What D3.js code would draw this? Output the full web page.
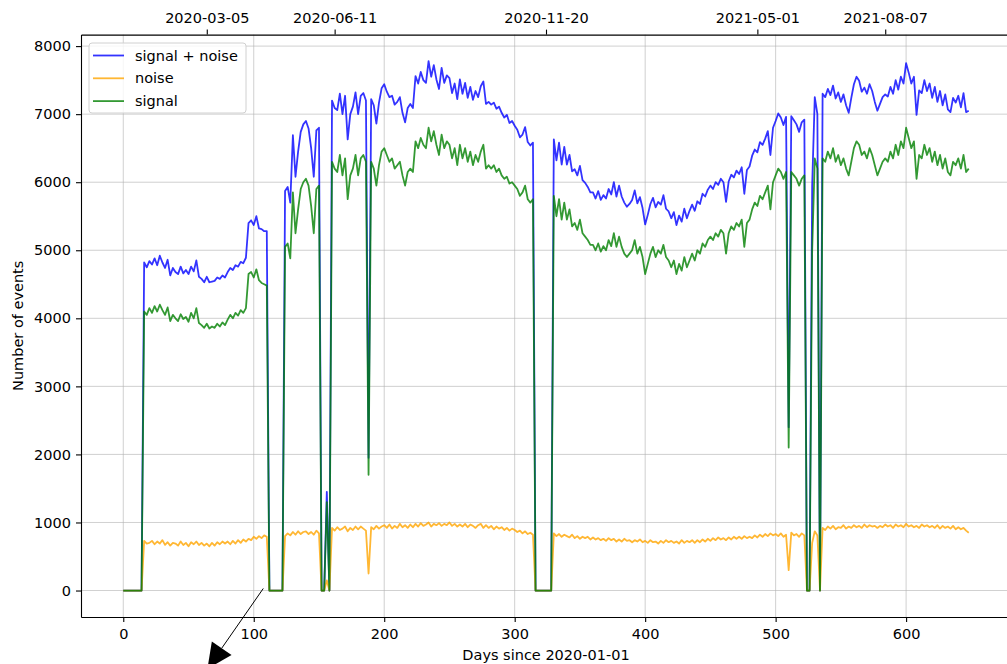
<!DOCTYPE html>
<html>
<head>
<meta charset="utf-8">
<script src="https://cdn.jsdelivr.net/npm/d3@7"></script>
<style>
  body { margin: 0; background: #fff; }
  svg text { font-family: "DejaVu Sans", sans-serif; }
</style>
</head>
<body>
<div id="chart"></div>
<script>
// one value every 2 days, starting at day 0 (2020-01-01)
var dayStep = 2;

var signalPlusNoise = [
0,0,0,0,0,0,0,0,4820,4750,
4840,4790,4880,4780,4920,4820,4740,4860,4630,4740,
4680,4650,4760,4660,4710,4650,4760,4690,4850,4610,
4580,4530,4610,4530,4540,4550,4600,4580,4630,4600,
4680,4740,4710,4780,4760,4830,4810,4890,5400,5440,
5370,5500,5320,5310,5280,5280,0,0,0,0,
0,0,5870,5930,5700,6690,6080,6450,6740,6850,
6900,6790,6500,6080,6760,6800,0,0,1450,0,
7200,7090,7060,7300,7000,7270,6630,7000,7110,7320,
7000,7270,7310,7200,1950,7220,7130,6860,7170,7380,
7440,7330,7250,7270,7140,7180,7250,7020,6880,7090,
7150,7090,7560,7450,7620,7500,7460,7780,7550,7720,
7510,7370,7680,7460,7570,7530,7310,7450,7220,7510,
7300,7460,7240,7400,7210,7340,7250,7410,7480,7150,
7180,7140,7170,7080,7110,7020,6950,6990,6870,6900,
6830,6770,6660,6700,6810,6590,6540,6580,0,0,
0,0,0,0,0,6630,6320,6580,6260,6520,
6260,6400,6160,6190,6100,6240,6030,5990,5930,5850,
5850,5760,5870,5740,5810,5760,5900,5820,6000,5790,
5950,5790,5700,5640,5680,5740,5880,5690,5780,5620,
5380,5520,5680,5770,5630,5710,5670,5810,5610,5570,
5470,5560,5370,5510,5420,5610,5470,5580,5670,5580,
5720,5680,5830,5790,5890,5950,5900,6000,5960,6050,
6000,5710,6010,6110,6070,6170,6120,6220,5830,6180,
6230,6390,6480,6440,6590,6550,6640,6750,6400,6800,
6900,7010,6950,6840,6960,2400,6970,6910,6850,6740,
6880,6920,0,0,5950,7250,7000,0,7300,7250,
7370,7280,7420,7230,7320,7180,7290,7130,7020,7240,
7440,7550,7490,7330,7390,7300,7440,7340,7180,7050,
7150,7250,7290,7260,7400,7300,7500,7360,7550,7450,
7750,7610,7450,7550,6990,7350,7310,7500,7340,7450,
7240,7400,7180,7340,7130,7290,7070,7030,7240,7170,
7270,7100,7310,7030,7050
];

var noise = [
0,0,0,0,0,0,0,0,730,690,
700,730,680,720,690,740,670,710,660,700,
690,660,720,670,700,650,710,680,720,670,
700,660,690,650,700,660,710,680,720,690,
720,680,730,690,740,700,750,720,760,740,
790,760,800,770,810,790,0,0,0,0,
0,0,800,840,810,860,820,870,830,860,
870,830,860,820,880,840,0,0,150,0,
920,880,930,890,910,940,870,920,890,940,
900,940,910,880,250,930,900,950,910,940,
960,920,970,910,950,920,980,930,960,920,
970,930,980,940,990,950,970,1000,940,980,
960,990,950,980,960,1000,950,980,940,970,
940,980,930,970,950,920,960,980,920,960,
920,950,900,940,910,930,890,920,880,910,
890,860,880,840,870,830,850,820,0,0,
0,0,0,0,0,840,800,830,790,820,
800,780,820,770,800,760,790,770,790,750,
780,750,770,740,760,730,770,740,760,720,
750,720,760,730,740,710,740,720,750,710,
730,700,740,710,720,690,730,700,740,710,
730,700,720,690,740,700,730,710,740,700,
740,710,750,720,760,730,770,740,780,750,
770,740,780,750,790,760,790,760,800,770,
790,770,810,780,820,790,830,800,840,810,
830,800,840,790,820,300,850,810,830,790,
840,810,0,0,700,870,810,0,920,890,
940,910,950,900,930,920,960,910,940,920,
960,930,950,920,970,930,960,940,950,920,
950,930,970,940,960,920,970,940,960,930,
980,940,960,930,950,920,970,940,960,930,
950,920,960,910,950,920,940,910,950,900,
930,900,920,880,850
];

var signal = [
0,0,0,0,0,0,0,0,4100,4050,
4150,4080,4180,4100,4200,4120,4050,4160,3960,4050,
4000,3960,4060,3990,4020,3950,4080,4000,4150,3930,
3900,3860,3920,3850,3880,3860,3920,3880,3940,3900,
3980,4050,4000,4080,4040,4120,4080,4150,4650,4680,
4600,4720,4560,4520,4500,4480,0,0,0,0,
0,0,5050,5100,4880,5850,5250,5600,5900,6000,
6050,5950,5650,5250,5900,5950,0,0,1300,0,
6300,6200,6150,6400,6100,6350,5750,6100,6200,6400,
6100,6350,6400,6300,1700,6300,6200,5950,6250,6450,
6500,6400,6300,6350,6200,6250,6300,6100,5950,6150,
6200,6150,6600,6500,6650,6550,6500,6800,6600,6750,
6550,6400,6700,6500,6600,6550,6350,6500,6250,6550,
6350,6500,6300,6450,6250,6400,6300,6450,6550,6200,
6250,6200,6250,6150,6200,6100,6050,6080,5980,6000,
5950,5900,5800,5850,5950,5750,5700,5750,0,0,
0,0,0,0,0,5800,5500,5750,5450,5700,
5450,5600,5350,5400,5300,5450,5250,5200,5150,5080,
5080,5000,5100,4980,5060,5000,5150,5060,5250,5050,
5200,5050,4950,4900,4950,5000,5150,4950,5050,4900,
4650,4800,4950,5050,4900,5000,4950,5080,4900,4850,
4750,4850,4650,4800,4700,4900,4750,4850,4950,4850,
5000,4950,5100,5050,5150,5200,5150,5250,5200,5300,
5250,4950,5250,5350,5300,5400,5350,5450,5050,5400,
5450,5600,5700,5650,5800,5750,5850,5950,5600,6000,
6100,6200,6150,6050,6150,2100,6150,6100,6050,5950,
6050,6100,0,0,5000,6350,6200,0,6350,6300,
6450,6350,6500,6300,6400,6250,6350,6200,6100,6300,
6500,6600,6550,6400,6450,6350,6500,6400,6250,6100,
6200,6300,6350,6300,6450,6350,6550,6400,6600,6500,
6800,6650,6500,6600,6050,6400,6350,6550,6400,6500,
6300,6450,6250,6400,6200,6350,6150,6100,6300,6250,
6350,6200,6400,6150,6200
];

var seriesNames = ["signal + noise", "noise", "signal"];
var seriesColors = ["#0000ff", "#ffa500", "#008000"];

var xTicks = [0, 100, 200, 300, 400, 500, 600];
var yTicks = [0, 1000, 2000, 3000, 4000, 5000, 6000, 7000, 8000];
var dateTicks = ["2020-03-05", "2020-06-11", "2020-11-20", "2021-05-01", "2021-08-07"];

// annotation arrow, in (day, events) coordinates
var arrowFrom = [107.3, 30];
var arrowTip = [64.5, -1150];

var width = 1007, height = 664;
var plotLeft = 81, plotRight = 1011, plotTop = 34.6, plotBottom = 617;
var fontSize = 14.5;

var svg = d3.select("#chart").append("svg")
    .attr("width", width)
    .attr("height", height)
    .attr("xmlns", "http://www.w3.org/2000/svg");

var x = d3.scaleLinear().domain([-32.4, 680.4]).range([plotLeft, plotRight]);
var y = d3.scaleLinear().domain([-389, 8169]).range([plotBottom, plotTop]);

var startMs = Date.UTC(2020, 0, 1);
var dayMs = 86400000;
var xDate = d3.scaleUtc()
    .domain([new Date(startMs + x.domain()[0] * dayMs), new Date(startMs + x.domain()[1] * dayMs)])
    .range([plotLeft, plotRight]);

// grid
svg.append("g").selectAll("line").data(xTicks).join("line")
    .attr("x1", d => x(d)).attr("x2", d => x(d))
    .attr("y1", plotTop).attr("y2", plotBottom)
    .style("stroke", "#b0b0b0").style("stroke-opacity", 0.6).style("stroke-width", 1);

svg.append("g").selectAll("line").data(yTicks).join("line")
    .attr("x1", plotLeft).attr("x2", plotRight)
    .attr("y1", d => y(d)).attr("y2", d => y(d))
    .style("stroke", "#b0b0b0").style("stroke-opacity", 0.6).style("stroke-width", 1);

// lines
svg.append("clipPath").attr("id", "plot")
    .append("rect")
    .attr("x", plotLeft).attr("y", plotTop)
    .attr("width", plotRight - plotLeft).attr("height", plotBottom - plotTop);

var line = d3.line()
    .x((d, i) => x(i * dayStep))
    .y(d => y(d));

[signalPlusNoise, noise, signal].forEach(function(series, k) {
    svg.append("path")
        .attr("clip-path", "url(#plot)")
        .attr("d", line(series))
        .style("fill", "none")
        .style("stroke", seriesColors[k])
        .style("stroke-opacity", 0.8)
        .style("stroke-width", 1.8)
        .style("stroke-linejoin", "round");
});

// axes
function styleAxis(g) {
    g.attr("font-size", fontSize).attr("font-family", "DejaVu Sans, sans-serif");
    g.selectAll("text").style("fill", "#000");
    g.selectAll("line").style("stroke", "#000").style("stroke-width", 1.1);
    g.select(".domain").style("stroke", "#000").style("stroke-width", 1.1);
}

svg.append("g")
    .attr("transform", "translate(0," + plotBottom + ")")
    .call(d3.axisBottom(x).tickValues(xTicks).tickSize(5).tickSizeOuter(0).tickPadding(7))
    .call(styleAxis);

svg.append("g")
    .attr("transform", "translate(" + plotLeft + ",0)")
    .call(d3.axisLeft(y).tickValues(yTicks).tickFormat(d3.format("d"))
        .tickSize(5).tickSizeOuter(0).tickPadding(5))
    .call(styleAxis);

svg.append("g")
    .attr("transform", "translate(0," + plotTop + ")")
    .call(d3.axisTop(xDate)
        .tickValues(dateTicks.map(d => d3.utcParse("%Y-%m-%d")(d)))
        .tickFormat(d3.utcFormat("%Y-%m-%d"))
        .tickSize(5).tickSizeOuter(0).tickPadding(7))
    .call(styleAxis);

svg.append("line")
    .attr("x1", plotRight).attr("x2", plotRight)
    .attr("y1", plotTop).attr("y2", plotBottom)
    .style("stroke", "#000").style("stroke-width", 1.1);

// axis labels
svg.append("text")
    .attr("x", (plotLeft + plotRight) / 2)
    .attr("y", 660)
    .attr("text-anchor", "middle")
    .style("font-size", fontSize + "px")
    .text("Days since 2020-01-01");

svg.append("text")
    .attr("transform", "translate(23," + (plotTop + plotBottom) / 2 + ") rotate(-90)")
    .attr("text-anchor", "middle")
    .style("font-size", fontSize + "px")
    .text("Number of events");

// legend
var legend = svg.append("g");
legend.append("rect")
    .attr("x", 89).attr("y", 43)
    .attr("width", 157).attr("height", 70)
    .attr("rx", 3)
    .style("fill", "#fff").style("fill-opacity", 0.8)
    .style("stroke", "#d0d0d0").style("stroke-width", 1);

seriesNames.forEach(function(label, k) {
    var ly = 55.5 + k * 22.8;
    legend.append("line")
        .attr("x1", 93).attr("x2", 124)
        .attr("y1", ly).attr("y2", ly)
        .style("stroke", seriesColors[k])
        .style("stroke-opacity", 0.8)
        .style("stroke-width", 1.8);
    legend.append("text")
        .attr("x", 135)
        .attr("y", ly + 5)
        .style("font-size", fontSize + "px")
        .style("fill", "#000")
        .text(label);
});

// annotation arrow
var x0 = x(arrowFrom[0]), y0 = y(arrowFrom[1]);
var x1 = x(arrowTip[0]), y1 = y(arrowTip[1]);
var len = Math.sqrt((x1 - x0) * (x1 - x0) + (y1 - y0) * (y1 - y0));
var ux = (x1 - x0) / len, uy = (y1 - y0) / len;
var headLen = 25, headHalf = 12;
var bx = x1 - ux * headLen, by = y1 - uy * headLen;

svg.append("line")
    .attr("x1", x0).attr("y1", y0)
    .attr("x2", bx).attr("y2", by)
    .style("stroke", "#000").style("stroke-width", 1);

svg.append("path")
    .attr("d", "M" + x1 + "," + y1 +
        "L" + (bx - uy * headHalf) + "," + (by + ux * headHalf) +
        "L" + (bx + uy * headHalf) + "," + (by - ux * headHalf) + "Z")
    .style("fill", "#000");
</script>
</body>
</html>
